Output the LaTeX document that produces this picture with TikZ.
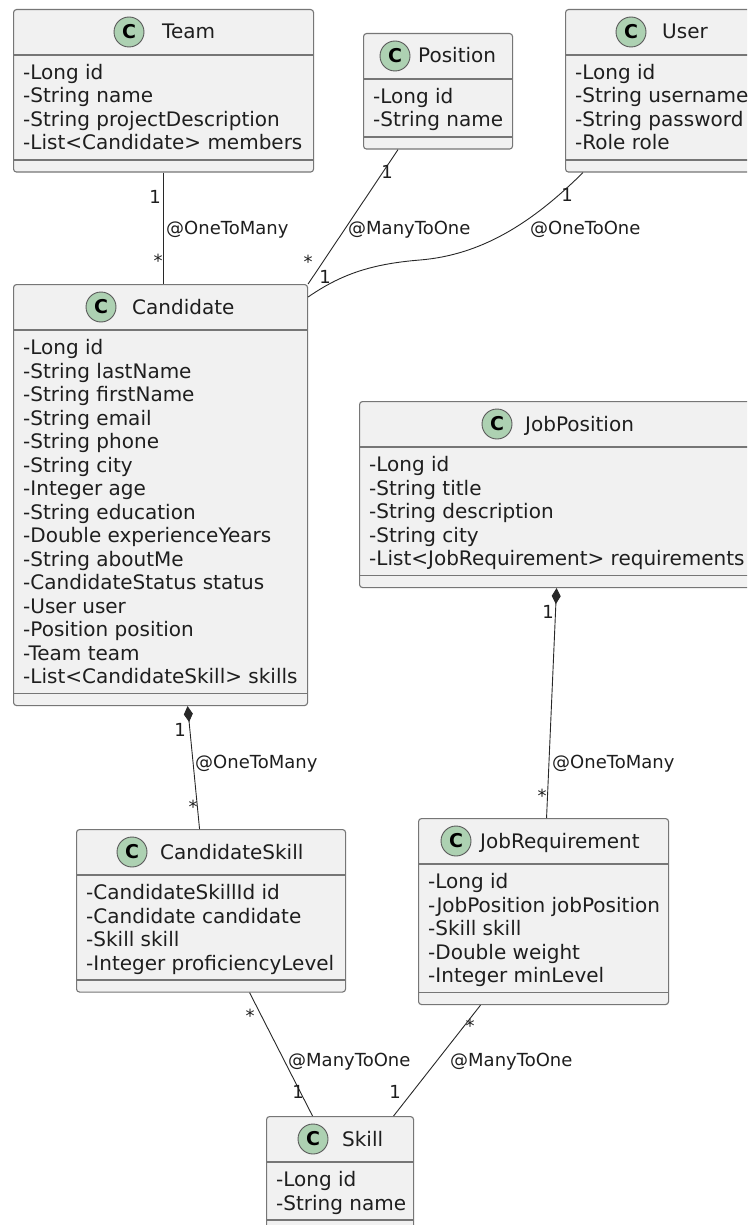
\documentclass[tikz,border=0pt]{standalone}
\usepackage{fontspec}
\setmainfont{DejaVu Sans}
\usetikzlibrary{arrows.meta}

\definecolor{boxfill}{RGB}{241,241,241}
\definecolor{boxline}{RGB}{118,118,118}
\definecolor{spotfill}{RGB}{173,209,178}
\definecolor{linkcol}{RGB}{40,40,40}
\definecolor{textcol}{RGB}{30,30,30}

\tikzset{
  classbox/.style={draw=boxline, fill=boxfill, line width=1.1pt, rounded corners=3pt,
    inner sep=0pt, anchor=north west},
  sepline/.style={draw=boxline, line width=1.1pt},
  spot/.style={circle, draw=black!65, fill=spotfill, line width=0.9pt, minimum size=30pt,
    inner sep=0pt, font=\fontsize{19}{19}\selectfont\bfseries},
  ctitle/.style={inner sep=0pt, anchor=base west, text=textcol, font=\fontsize{20}{24}\selectfont},
  cattr/.style={inner sep=0pt, anchor=base west, text=textcol, font=\fontsize{20}{24}\selectfont},
  link/.style={draw=linkcol, line width=0.9pt},
  comp/.style={link, {Diamond[length=16pt,width=9pt]}-},
  role/.style={inner sep=0pt, anchor=base west, text=textcol, font=\fontsize{18}{20}\selectfont},
  mult/.style={inner sep=0pt, anchor=base, text=textcol, font=\fontsize{18}{20}\selectfont},
}

% #1 name, #2 left, #3 top, #4 right, #5 attribute count,
% #6 spot centre x, #7 title x, #8 title, #9 attributes
\newcommand\umlclass[9]{%
  \pgfmathsetmacro\clsW{#4-#2}%
  \pgfmathsetmacro\clsH{68.5+23.5*#5}%
  \pgfmathsetmacro\clsS{46+23.5*#5+11}%
  \node[classbox, minimum width=\clsW pt, minimum height=\clsH pt] (#1) at (#2,#3) {};
  \draw[sepline] ([yshift=-46pt]#1.north west) -- ([yshift=-46pt]#1.north east);
  \draw[sepline] ([yshift=-\clsS pt]#1.north west) -- ([yshift=-\clsS pt]#1.north east);
  \node[spot] (#1-spot) at (#6,#3+23) {C};
  \node[ctitle] (#1-title) at (#7,#3+30) {#8};
  \foreach \attr [count=\i from 0] in {#9}
    \node[cattr] (#1-a\i) at (#2+10,#3+70.5+23.5*\i) {\attr};
}

\begin{document}
\begin{tikzpicture}[x=1pt, y=-1pt]
\useasboundingbox (0,0) rectangle (747,1225);
\clip (0,0) rectangle (747,1225);
\fill[white] (0,0) rectangle (747,1225);

% classes
\umlclass{team}{13}{9}{313}{4}{129}{162}{Team}%
  {-Long id, -String name, -String projectDescription, -List<Candidate> members}
\umlclass{pos}{363}{33}{512}{2}{395}{418}{Position}{-Long id, -String name}
\umlclass{user}{565}{9}{765}{4}{631}{662}{User}%
  {-Long id, -String username, -String password, -Role role}
\umlclass{cand}{13}{284}{307}{15}{101}{132}{Candidate}%
  {-Long id, -String lastName, -String firstName, -String email, -String phone,
   -String city, -Integer age, -String education, -Double experienceYears,
   -String aboutMe, -CandidateStatus status, -User user, -Position position,
   -Team team, -List<CandidateSkill> skills}
\umlclass{jobpos}{359}{401}{762}{5}{497}{525}{JobPosition}%
  {-Long id, -String title, -String description, -String city,
   -List<JobRequirement> requirements}
\umlclass{cskill}{76}{829}{345}{4}{132}{160}{CandidateSkill}%
  {-CandidateSkillId id, -Candidate candidate, -Skill skill, -Integer proficiencyLevel}
\umlclass{jobreq}{418}{818}{668}{5}{456}{480}{JobRequirement}%
  {-Long id, -JobPosition jobPosition, -Skill skill, -Double weight, -Integer minLevel}
\umlclass{skill}{266}{1116}{413}{2}{313}{342}{Skill}{-Long id, -String name}

% Team -- Candidate
\draw[link] (team.south) -- (team.south |- cand.north);
\node[mult] (m-team1) at (155,203.5) {1};
\node[role] (r-team) at (166,234.5) {@OneToMany};
\node[mult] (m-team2) at (158,267) {*};

% Position -- Candidate
\draw[link] ([xshift=35pt]pos.south west) -- (cand.north east);
\node[mult] (m-pos1) at (387,178.5) {1};
\node[role] (r-pos) at (348,234.5) {@ManyToOne};
\node[mult] (m-pos2) at (308,268) {*};

% User -- Candidate
\coordinate (ubend) at (420,260);
\draw[link] ([xshift=18pt]user.south west) .. controls (530,225) and (480,255) .. (ubend)
  .. controls (370,264) and (340,275) .. ([yshift=-13pt]cand.north east);
\node[mult] (m-user1) at (567,201.5) {1};
\node[role] (r-user) at (530,234.5) {@OneToOne};
\node[mult] (m-user2) at (325,283.5) {1};

% Candidate -- CandidateSkill
\draw[comp] ([xshift=27pt]cand.south) -- ([xshift=-11.5pt]cskill.north);
\node[mult] (m-cs1) at (180,736.5) {1};
\node[role] (r-cs) at (195,768.5) {@OneToMany};
\node[mult] (m-cs2) at (193,813) {*};

% JobPosition -- JobRequirement
\draw[comp] ([xshift=-4.5pt]jobpos.south) -- ([xshift=3pt]jobreq.north);
\node[mult] (m-jp1) at (548,618.5) {1};
\node[role] (r-jp) at (552,768.5) {@OneToMany};
\node[mult] (m-jp2) at (542,802) {*};

% CandidateSkill -- Skill
\draw[link] ([xshift=38.5pt]cskill.south) -- ([xshift=-27.5pt]skill.north);
\node[mult] (m-sk1) at (250,1022) {*};
\node[role] (r-sk1) at (288,1066.5) {@ManyToOne};
\node[mult] (m-sk2) at (298,1098.5) {1};

% JobRequirement -- Skill
\draw[link] ([xshift=-63pt]jobreq.south) -- ([xshift=53.5pt]skill.north);
\node[mult] (m-jr1) at (470,1032) {*};
\node[role] (r-jr) at (450,1066.5) {@ManyToOne};
\node[mult] (m-jr2) at (395,1098.5) {1};
\end{tikzpicture}
\end{document}
